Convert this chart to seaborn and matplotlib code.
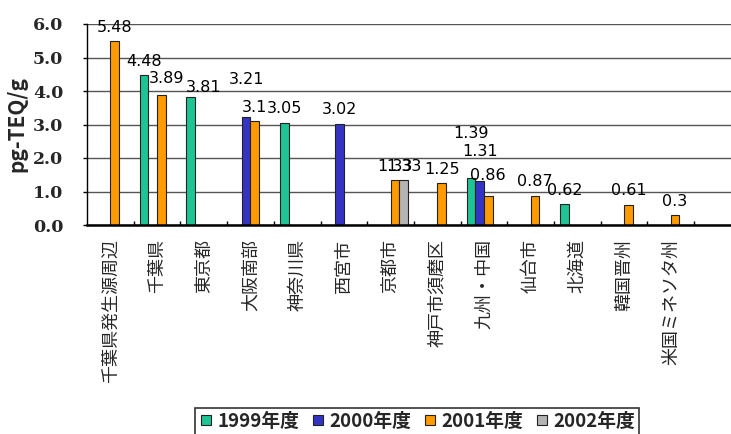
import numpy as np
import pandas as pd
import seaborn as sns
import matplotlib.pyplot as plt
from matplotlib.lines import Line2D

# Survey areas (x-axis categories)
areas = ["千葉県発生源周辺", "千葉県", "東京都", "大阪南部", "神奈川県", "西宮市",
         "京都市", "神戸市須磨区", "九州・中国", "仙台市", "北海道", "韓国晋州",
         "米国ミネソタ州"]
years = ["1999年度", "2000年度", "2001年度", "2002年度"]

# Measured values per fiscal year (None = not surveyed)
fy1999 = [None, 4.48, 3.81, None, 3.05, None, None, None, 1.39, None, 0.62, None, None]
fy2000 = [None, None, None, 3.21, None, 3.02, None, None, 1.31, None, None, None, None]
fy2001 = [5.48, 3.89, None, 3.1, None, None, 1.33, 1.25, 0.86, 0.87, None, 0.61, 0.3]
fy2002 = [None, None, None, None, None, None, 1.33, None, None, None, None, None, None]

yticks = [0.0, 1.0, 2.0, 3.0, 4.0, 5.0, 6.0]
ylabel = "pg-TEQ/g"

colors = ["#1fc494", "#3434c4", "#ff9a00", "#b4b4b4"]

rows = []
for year, series in zip(years, [fy1999, fy2000, fy2001, fy2002]):
    for area, v in zip(areas, series):
        if v is not None:
            rows.append({"area": area, "year": year, "value": v})
df = pd.DataFrame(rows)

sns.set_theme(style="white")
plt.rcParams["font.family"] = ["Noto Sans CJK JP", "DejaVu Sans"]

fig = plt.figure(figsize=(7.31, 4.34), dpi=100)
ax = fig.add_axes([87 / 731, 1 - 225 / 434, 1 - 87 / 731, (225 - 24) / 434])

sns.barplot(data=df, x="area", y="value", hue="year", order=areas,
            hue_order=years, palette=colors, width=0.74, dodge=True,
            edgecolor="#222222", linewidth=0.8, saturation=1, ax=ax,
            legend=False)

ax.set_ylim(0, 6.0)
ax.set_xlim(-0.5, 13.29)
ax.set_yticks(yticks)
ax.set_yticklabels([f"{t:.1f}" for t in yticks], fontsize=12.5, fontweight="bold",
                   family=["DejaVu Serif"])
ax.yaxis.grid(True, color="#555555", linewidth=1.0)
ax.set_axisbelow(True)
ax.tick_params(axis="y", length=3, width=1, color="black", pad=14, left=True)

# category separators as small inward ticks
ax.set_xticks(np.arange(len(areas)) + 0.5, minor=True)
ax.tick_params(axis="x", which="minor", direction="in", length=3, width=1,
               color="black", bottom=True)
ax.tick_params(axis="x", which="major", length=0, pad=10)
ax.set_xticks(np.arange(len(areas)))
ax.set_xticklabels(areas, rotation=90, fontsize=13, va="top", ha="center")

ax.set_xlabel("")
ax.set_ylabel(ylabel, fontsize=15, fontweight="bold", labelpad=4)

for side in ["top", "right"]:
    ax.spines[side].set_visible(False)
ax.spines["left"].set_color("black")
ax.spines["left"].set_linewidth(1.0)
ax.spines["bottom"].set_color("black")
ax.spines["bottom"].set_linewidth(1.8)

# value labels; a few are nudged (points) so neighbouring labels stay readable
nudge = {
    ("東京都", "1999年度"): (9, -3),
    ("千葉県", "2001年度"): (4, 2),
    ("大阪南部", "2000年度"): (0, 17),
    ("九州・中国", "1999年度"): (0, 22),
    ("九州・中国", "2000年度"): (0, 11),
    ("九州・中国", "2001年度"): (0, 5),
}
for container, year in zip(ax.containers, years):
    for bar in container:
        h = bar.get_height()
        if np.isnan(h):
            continue
        xc = bar.get_x() + bar.get_width() / 2
        area = areas[int(round(xc))]
        dx, dy = nudge.get((area, year), (0, 0))
        ax.annotate(f"{h:g}", (xc, h), xytext=(dx, 10 + dy),
                    textcoords="offset points", ha="center", va="center",
                    fontsize=11.5, color="black", family=["DejaVu Sans"],
                    annotation_clip=False)

handles = [Line2D([], [], marker="s", linestyle="none", markersize=7,
                  markerfacecolor=c, markeredgecolor="#222222",
                  markeredgewidth=0.8) for c in colors]
leg = fig.legend(handles, years, loc="upper left",
                 bbox_to_anchor=(195 / 731, 1 - 408 / 434), ncol=4,
                 fontsize=13.5, frameon=True, fancybox=False, handlelength=0.8,
                 handletextpad=0.2, columnspacing=0.6, borderpad=0.2,
                 borderaxespad=0)
leg.get_frame().set_edgecolor("black")
leg.get_frame().set_linewidth(1.2)
for t in leg.get_texts():
    t.set_fontweight("bold")

fig.savefig("out.png", dpi=100)
